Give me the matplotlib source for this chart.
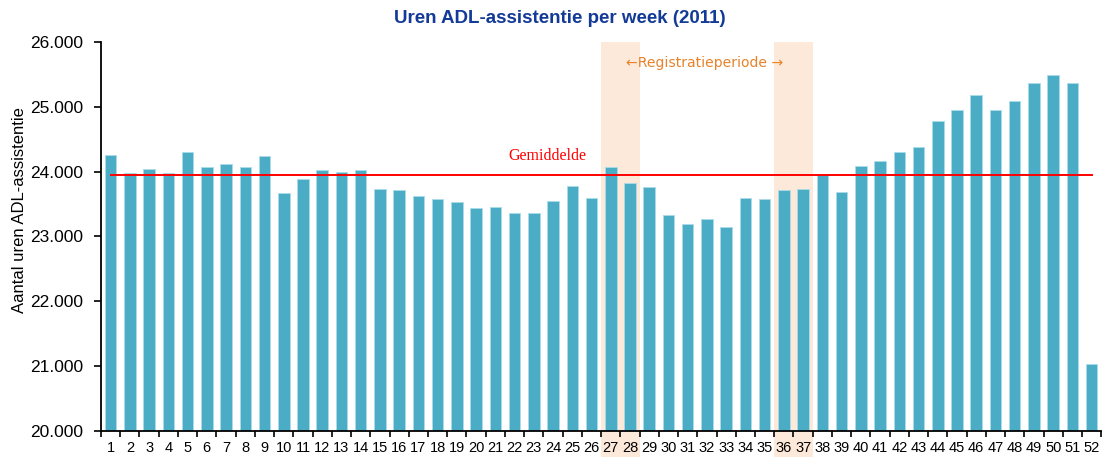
import numpy as np
import matplotlib
matplotlib.use("Agg")
import matplotlib.pyplot as plt
import matplotlib.transforms as mtransforms
from matplotlib.ticker import FuncFormatter

# data: hours of ADL assistance per week, 2011
weeks = list(range(1, 53))
hours = [24263, 23975, 24042, 23975, 24310, 24067, 24119, 24067, 24237, 23665,
         23882, 24021, 24000, 24021, 23737, 23717, 23618, 23572, 23526, 23433,
         23459, 23361, 23361, 23550, 23784, 23598, 24067, 23830, 23764, 23336,
         23192, 23263, 23145, 23598, 23572, 23717, 23737, 23954, 23691, 24094,
         24166, 24310, 24377, 24779, 24949, 25186, 24949, 25088, 25372, 25490,
         25372, 21036]
mean_value = 23943
registration_blocks = [(27, 28), (36, 37)]

plt.rcParams['font.family'] = ['Liberation Sans', 'DejaVu Sans']

fig = plt.figure(figsize=(11.04, 4.57), dpi=100)
ax = fig.add_axes([0.0915, 0.057, 0.906, 0.851])

# shaded registration weeks (reach down over the tick labels)
trans = mtransforms.blended_transform_factory(ax.transData, ax.transAxes)
for a, b in registration_blocks:
    ax.add_patch(plt.Rectangle((a - 0.5, -0.08), b - a + 1, 1.08, transform=trans,
                               facecolor='#FDE9D9', edgecolor='none', clip_on=False, zorder=0))

ax.bar(weeks, hours, width=0.6, color='#4BACC6', edgecolor='#A9DCEA', linewidth=0.6, zorder=2)
ax.plot([1, 52], [mean_value, mean_value], color='#FF0000', linewidth=1.4, zorder=3)

ax.text(23.7, 24120, 'Gemiddelde', color='#FF0000', fontsize=11.5,
        family=['Liberation Serif', 'DejaVu Serif'], ha='center', va='bottom')
ax.text(31.9, 25680, '\u2190Registratieperiode \u2192', color='#E8822A', fontsize=10.1,
        family=['DejaVu Sans'], ha='center', va='center')

ax.set_ylim(20000, 26000)
ax.set_xlim(0.5, 52.5)
ax.set_yticks(np.arange(20000, 26001, 1000))
ax.yaxis.set_major_formatter(FuncFormatter(lambda v, p: f'{v/1000:.3f}'))
ax.tick_params(axis='y', labelsize=12.5, length=5, width=1.2, direction='out', pad=8)

ax.set_xticks(np.arange(0.5, 53, 1))
ax.set_xticklabels([])
ax.tick_params(axis='x', which='major', length=4, width=1.2, direction='out')
ax.set_xticks(weeks, minor=True)
ax.set_xticklabels([str(w) for w in weeks], minor=True)
ax.tick_params(axis='x', which='minor', length=0, labelsize=10.5, pad=7)

for side in ['top', 'right']:
    ax.spines[side].set_visible(False)
for side in ['left', 'bottom']:
    ax.spines[side].set_linewidth(1.3)

ax.set_ylabel('Aantal uren ADL-assistentie', fontsize=12)
ax.yaxis.set_label_coords(-0.074, 0.568)
fig.text(0.507, 0.96, 'Uren ADL-assistentie per week (2011)', ha='center', va='center',
         fontsize=13.5, fontweight='bold', color='#123A96')

fig.savefig('out.png', dpi=100)
